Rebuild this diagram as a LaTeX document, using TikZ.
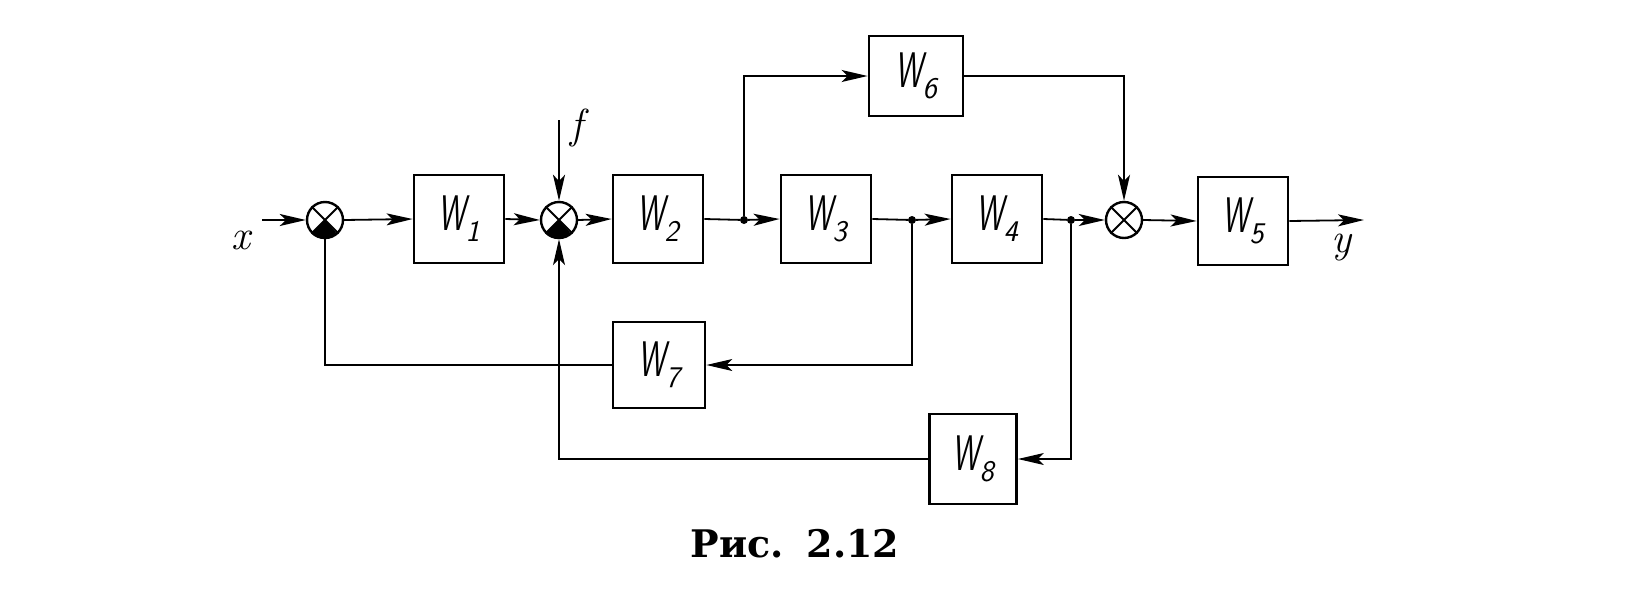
\documentclass[tikz,border=0pt]{standalone}
\usepackage{fontspec}
\usepackage{graphicx}
\usetikzlibrary{arrows.meta}
\newfontfamily\capfont{DejaVu Serif}
\begin{document}
\begin{tikzpicture}[x=1pt,y=-1pt,
  blk/.style={draw,line width=2.8pt,minimum width=90pt,minimum height=88pt,inner sep=0pt,
     font=\fontsize{50}{50}\selectfont\sffamily\slshape},
  sum/.style={draw,circle,line width=2.4pt,minimum size=36pt,inner sep=0pt},
  conn/.style={line width=1.8pt,-{Stealth[length=26pt,width=12pt,inset=6pt]}},
  plain/.style={line width=1.8pt},
  thin/.style={line width=1.1pt},
  thinar/.style={line width=1.1pt,-{Stealth[length=26pt,width=12pt,inset=6pt]}},
  lbl/.style={font=\fontsize{42}{42}\selectfont\itshape},
  dot/.style={circle,fill,inner sep=0pt,minimum size=8pt}]
\useasboundingbox (0,0) rectangle (1630,600);
\newcommand{\WW}[1]{\scalebox{0.62}[1]{W}\raisebox{-11pt}{\fontsize{30}{30}\selectfont #1}}
% summing junctions
\node[sum] (S1) at (325,220) {};
\node[sum] (S2) at (559,220) {};
\node[sum] (S3) at (1124,220) {};
\foreach \s in {S1,S2,S3}{
  \draw[line width=2pt] (\s.45) -- (\s.225) (\s.135) -- (\s.315);}
\foreach \s in {S1,S2}{
  \fill (\s.center) -- (\s.225) arc[start angle=-135,end angle=-45,radius=18pt] -- cycle;}
% blocks
\node[blk] (W1) at (459,219) {\WW{1}};
\node[blk] (W2) at (658,219) {\WW{2}};
\node[blk] (W3) at (826,219) {\WW{3}};
\node[blk] (W4) at (997,219) {\WW{4}};
\node[blk] (W5) at (1243,221) {\WW{5}};
\node[blk,minimum width=94pt,minimum height=80pt] (W6) at (916,76) {\WW{6}};
\node[blk,minimum width=92pt,minimum height=86pt] (W7) at (659,365) {\WW{7}};
\node[blk,minimum width=87pt,minimum height=90pt] (W8) at (973,459) {\WW{8}};
% branch points
\node[dot] (d1) at (744,220) {};
\node[dot] (d2) at (912,220) {};
\node[dot] (d3) at (1071,220) {};
% free ends
\coordinate (in) at (262,220);
\coordinate (fin) at (559,120);
\coordinate (out) at (1364,220);
% labels
\node[lbl] (lx) at (241,240) {x};
\node[lbl] (lf) at (577,128) {f};
\node[lbl] (ly) at (1341,248) {y};
\node[font=\fontsize{38}{38}\selectfont\capfont\bfseries] (cap) at (795,544) {Рис.\hspace{0.6em}2.12};
% main path
\draw[conn] (in) -- (S1.west);
\draw[conn] (S1.east) -- (W1.west);
\draw[conn] (W1.east) -- (S2.west);
\draw[conn] (fin) -- (S2.north);
\draw[conn] (S2.east) -- (W2.west);
\draw[plain] (W2.east) -- (d1);
\draw[conn] (d1) -- (W3.west);
\draw[conn] (d1) |- (W6.west);
\draw[conn] (W6.east) -| (S3.north);
\draw[plain] (W3.east) -- (d2);
\draw[conn] (d2) -- (W4.west);
\draw[plain] (W4.east) -- (d3);
\draw[conn] (d3) -- (S3.west);
\draw[conn] (S3.east) -- (W5.west);
\draw[conn] (W5.east) -- (out);
% feedback
\draw[thinar] (d2) |- (W7.east);
\draw[thin] (W7.west) -| (S1.south);
\draw[thinar] (d3) |- (W8.east);
\draw[thinar] (W8.west) -| (S2.south);
\end{tikzpicture}
\end{document}
